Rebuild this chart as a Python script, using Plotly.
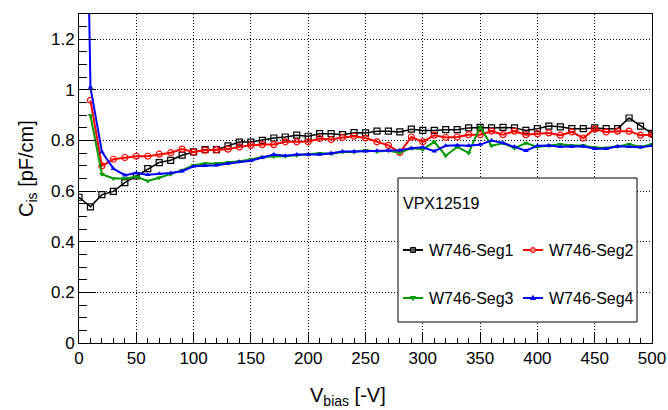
import plotly.graph_objects as go

# ---------------- data ----------------
vbias = list(range(0, 510, 10))
vbias10 = list(range(10, 510, 10))

seg1 = [0.576, 0.538, 0.586, 0.599, 0.634, 0.660, 0.689, 0.713, 0.722, 0.742,
        0.755, 0.764, 0.764, 0.779, 0.794, 0.794, 0.801, 0.810, 0.814, 0.821,
        0.817, 0.827, 0.827, 0.823, 0.831, 0.830, 0.837, 0.837, 0.834, 0.845,
        0.840, 0.840, 0.843, 0.843, 0.850, 0.852, 0.850, 0.852, 0.850, 0.840,
        0.847, 0.857, 0.854, 0.847, 0.847, 0.850, 0.847, 0.847, 0.889, 0.857,
        0.828]

seg2 = [0.959, 0.700, 0.726, 0.733, 0.738, 0.738, 0.746, 0.752, 0.766,
        0.755, 0.762, 0.764, 0.766, 0.775, 0.781, 0.784, 0.784, 0.795, 0.795,
        0.795, 0.808, 0.804, 0.812, 0.817, 0.810, 0.795, 0.781, 0.753, 0.814,
        0.795, 0.821, 0.812, 0.814, 0.823, 0.823, 0.837, 0.823, 0.837, 0.823,
        0.827, 0.830, 0.821, 0.834, 0.810, 0.845, 0.834, 0.837, 0.837, 0.821,
        0.823]

seg3 = [0.899, 0.667, 0.650, 0.650, 0.657, 0.640, 0.653, 0.667, 0.683,
        0.702, 0.709, 0.709, 0.713, 0.718, 0.725, 0.735, 0.737, 0.738, 0.742,
        0.745, 0.750, 0.748, 0.755, 0.755, 0.762, 0.757, 0.760, 0.752, 0.770,
        0.765, 0.795, 0.740, 0.775, 0.751, 0.854, 0.779, 0.790, 0.770, 0.790,
        0.775, 0.779, 0.785, 0.780, 0.780, 0.772, 0.771, 0.777, 0.785, 0.775,
        0.785]

seg4 = [3.6, 1.010, 0.755, 0.689, 0.663, 0.672, 0.665, 0.669, 0.672, 0.679,
        0.698, 0.700, 0.702, 0.709, 0.716, 0.720, 0.733, 0.745, 0.740, 0.745,
        0.745, 0.745, 0.750, 0.757, 0.757, 0.758, 0.760, 0.760, 0.762, 0.770,
        0.773, 0.758, 0.779, 0.781, 0.779, 0.784, 0.800, 0.790, 0.775, 0.760,
        0.779, 0.780, 0.775, 0.775, 0.777, 0.768, 0.768, 0.777, 0.775, 0.773,
        0.779]

names = ["W746-Seg1", "W746-Seg2", "W746-Seg3", "W746-Seg4"]
colors = ["#000000", "#ff0000", "#009a00", "#0000ff"]
legend_header = "VPX12519"

# ---------------- layout geometry ----------------
W, H = 668, 410
L, R, T, B = 79, 16, 14, 67
PW, PH = W - L - R, H - T - B

def px(x):
    return (x - L) / PW

def py(y):
    return (H - B - y) / PH

FONT = "Liberation Sans, Arial, sans-serif"

fig = go.Figure()
fig.add_trace(go.Scatter(x=vbias, y=seg1, mode="lines+markers", name=names[0],
                         line=dict(color=colors[0], width=1.5),
                         marker=dict(symbol="square-open", size=6, color=colors[0],
                                     line=dict(width=1.2, color=colors[0]))))
fig.add_trace(go.Scatter(x=vbias10, y=seg2, mode="lines+markers", name=names[1],
                         line=dict(color=colors[1], width=2),
                         marker=dict(symbol="circle-open", size=6, color=colors[1],
                                     line=dict(width=1.2, color=colors[1]))))
fig.add_trace(go.Scatter(x=vbias10, y=seg3, mode="lines+markers", name=names[2],
                         line=dict(color=colors[2], width=2),
                         marker=dict(symbol="triangle-down", size=5, color=colors[2])))
fig.add_trace(go.Scatter(x=vbias, y=seg4, mode="lines+markers", name=names[3],
                         line=dict(color=colors[3], width=2),
                         marker=dict(symbol="triangle-up", size=5, color=colors[3])))

shapes = []
annotations = []

# legend box
shapes.append(dict(type="rect", xref="paper", yref="paper",
                   x0=px(398), x1=px(637), y0=py(322), y1=py(178),
                   line=dict(color="black", width=1), fillcolor="white", layer="above"))
annotations.append(dict(xref="paper", yref="paper", x=px(401), y=py(203),
                        text=legend_header, showarrow=False, xanchor="left", yanchor="middle",
                        font=dict(family=FONT, size=16, color="black")))

entries = [(403, 250), (523, 250), (403, 298), (523, 298)]
msyms = ["square", "circle", "tri-down", "tri-up"]
for i, (x0, yy) in enumerate(entries):
    shapes.append(dict(type="line", xref="paper", yref="paper",
                       x0=px(x0), x1=px(x0 + 20), y0=py(yy), y1=py(yy),
                       line=dict(color=colors[i], width=2), layer="above"))
    cx = x0 + 10
    if msyms[i] == "square":
        shapes.append(dict(type="rect", xref="paper", yref="paper",
                           x0=px(cx - 2.5), x1=px(cx + 2.5), y0=py(yy + 2.5), y1=py(yy - 2.5),
                           line=dict(color=colors[i], width=1), fillcolor="#555555", layer="above"))
    elif msyms[i] == "circle":
        shapes.append(dict(type="circle", xref="paper", yref="paper",
                           x0=px(cx - 2.5), x1=px(cx + 2.5), y0=py(yy + 2.5), y1=py(yy - 2.5),
                           line=dict(color=colors[i], width=1), fillcolor="#ff8080", layer="above"))
    elif msyms[i] == "tri-down":
        shapes.append(dict(type="path", xref="paper", yref="paper",
                           path=f"M {px(cx-2.5)},{py(yy-1.5)} L {px(cx+2.5)},{py(yy-1.5)} L {px(cx)},{py(yy+2.5)} Z",
                           line=dict(color=colors[i], width=1), fillcolor=colors[i], layer="above"))
    else:
        shapes.append(dict(type="path", xref="paper", yref="paper",
                           path=f"M {px(cx-2.5)},{py(yy+1.5)} L {px(cx+2.5)},{py(yy+1.5)} L {px(cx)},{py(yy-2.5)} Z",
                           line=dict(color=colors[i], width=1), fillcolor=colors[i], layer="above"))
    annotations.append(dict(xref="paper", yref="paper", x=px(x0 + 24), y=py(yy),
                            text=names[i], showarrow=False, xanchor="left", yanchor="middle",
                            font=dict(family=FONT, size=16, color="black")))

# axis titles
annotations.append(dict(xref="paper", yref="paper", x=px(348), y=py(396),
                        text="V<sub>bias</sub> [-V]", showarrow=False,
                        xanchor="center", yanchor="middle",
                        font=dict(family=FONT, size=20, color="black")))
annotations.append(dict(xref="paper", yref="paper", x=px(27), y=py(169),
                        text="C<sub>is</sub> [pF/cm]", showarrow=False, textangle=-90,
                        xanchor="center", yanchor="middle",
                        font=dict(family=FONT, size=20, color="black")))

grid_dash = "1px,2px"
fig.update_layout(
    width=W, height=H,
    margin=dict(l=L, r=R, t=T, b=B, pad=0, autoexpand=False),
    paper_bgcolor="white", plot_bgcolor="white",
    showlegend=False,
    font=dict(family=FONT, size=17, color="black"),
    shapes=shapes, annotations=annotations,
    xaxis=dict(range=[0, 500], dtick=50, tick0=0, ticks="inside", ticklen=10,
               tickwidth=1, tickcolor="black", automargin=False,
               minor=dict(dtick=10, ticks="inside", ticklen=5, tickcolor="black", showgrid=False),
               showgrid=True, gridcolor="black", gridwidth=1, griddash=grid_dash,
               showline=True, linecolor="black", linewidth=1, mirror=True,
               zeroline=False, tickfont=dict(size=17, family=FONT)),
    yaxis=dict(range=[0, 1.3], dtick=0.2, tick0=0, ticks="inside", ticklen=17,
               tickwidth=1, tickcolor="black", automargin=False,
               minor=dict(dtick=0.05, ticks="inside", ticklen=8, tickcolor="black", showgrid=False),
               showgrid=True, gridcolor="black", gridwidth=1, griddash=grid_dash,
               showline=True, linecolor="black", linewidth=1, mirror=True,
               zeroline=False, tickfont=dict(size=17, family=FONT)),
)

fig.write_html("out.html")
